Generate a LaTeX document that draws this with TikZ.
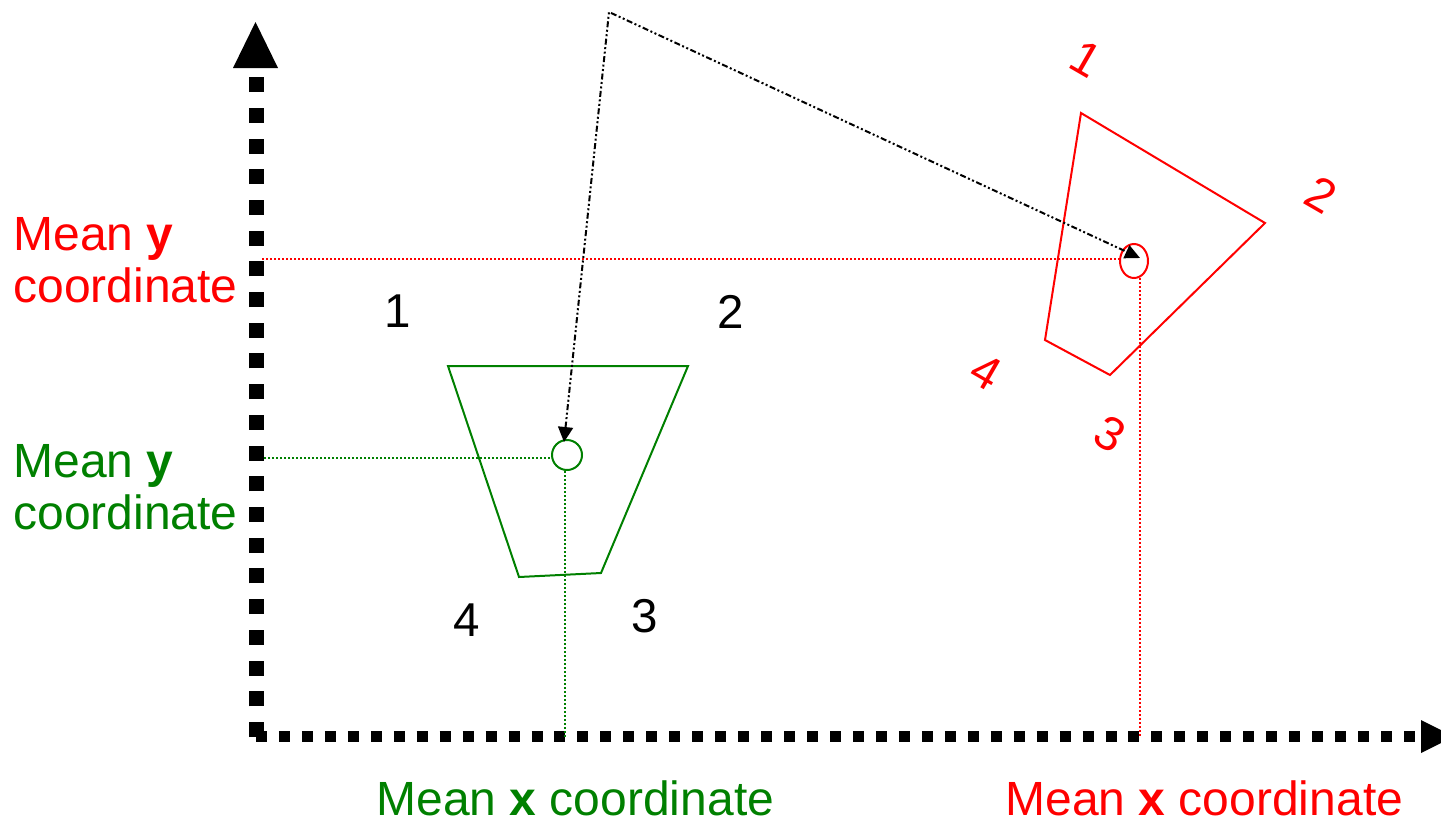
\documentclass[tikz,border=0pt]{standalone}
\usepackage{fontspec}
\setmainfont{Liberation Sans}
\usetikzlibrary{arrows.meta,shapes.geometric}
\definecolor{myred}{RGB}{255,0,0}
\definecolor{mygreen}{RGB}{0,128,0}
\begin{document}
\begin{tikzpicture}[x=1pt,y=-1pt,
  lbl/.style={inner sep=0pt, outer sep=0pt, font=\fontsize{48}{53}\selectfont},
  num/.style={inner sep=0pt, outer sep=0pt, font=\fontsize{47.5}{53}\selectfont},
  shapeline/.style={line width=2pt, line join=miter},
  guide/.style={line width=1.6pt, dash pattern=on 1.6pt off 2.4pt},
  axisv/.style={line width=15pt, dash pattern=on 15pt off 15.71pt},
  axish/.style={line width=11pt, dash pattern=on 11pt off 11.96pt},
  mapline/.style={line width=2pt, dash pattern=on 6pt off 2.5pt on 2pt off 2.5pt on 2pt off 2.5pt,
    {Triangle[length=15pt,width=15pt]}-{Triangle[length=15pt,width=14pt]}}
]
\useasboundingbox (0,0) rectangle (1441,825);
\clip (0,0) rectangle (1441,825);

% axes
\coordinate (O) at (256,737);
\coordinate (Ytop) at (256,77);
\coordinate (Xend) at (1415,736.5);
\coordinate (Ostart) at (256,736.5);
\draw[axisv] (O) -- (Ytop);
\draw[axish] (Ostart) -- (Xend);
\fill (233,68) -- (278,68) -- (255.5,22) -- cycle;
\fill (1421,720) -- (1421,753) -- (1454,736.5) -- cycle;

% green trapezoid
\coordinate (g1) at (448,366);
\coordinate (g2) at (688,366);
\coordinate (g3) at (601,573);
\coordinate (g4) at (519,577);
\draw[shapeline, mygreen] (g1) -- (g2) -- (g3) -- (g4) -- cycle;
\node[circle, draw=mygreen, line width=2pt, minimum size=30pt, inner sep=0pt] (gc) at (567,455) {};

% red quadrilateral
\coordinate (r1) at (1081,113);
\coordinate (r2) at (1265,223);
\coordinate (r3) at (1110,375);
\coordinate (r4) at (1045,340);
\draw[shapeline, myred] (r1) -- (r2) -- (r3) -- (r4) -- cycle;
\node[ellipse, draw=myred, line width=2pt, minimum width=28pt, minimum height=34pt, inner sep=0pt] (rc) at (1134,261) {};

% guide lines
\coordinate (gyl) at (264,458);
\coordinate (gxb) at (565,737);
\draw[guide, mygreen] (gyl) -- (552,458);
\draw[guide, mygreen] (565,471) -- (gxb);
\coordinate (ryl) at (262,259);
\coordinate (rxb) at (1140,737);
\draw[guide, myred] (ryl) -- (1120,259);
\draw[guide, myred] (1140,278) -- (rxb);

% mapping line
\coordinate (top) at (609,12);
\coordinate (gtip) at (564,442);
\coordinate (rtip) at (1140,258);
\draw[mapline] (gtip) -- (top) -- (rtip);

% black vertex numbers
\node[num] (n1) at (398,311.5) {1};
\node[num] (n2) at (731,311.5) {2};
\node[num] (n3) at (645,616) {3};
\node[num] (n4) at (467,620.5) {4};

% red vertex numbers (rotated)
\node[num, myred, rotate=-30] (m1) at (1086,59) {1};
\node[num, myred, rotate=-30] (m2) at (1321,195) {2};
\node[num, myred, rotate=-30] (m3) at (1110,434) {3};
\node[num, myred, rotate=-30] (m4) at (986,372) {4};

% labels
\node[lbl, myred, anchor=base west] (ry1) at (13.5,250) {Mean \textbf{y}};
\node[lbl, myred, anchor=base west] (ry2) at (13.5,302) {coordinate};
\node[lbl, mygreen, anchor=base west] (gy1) at (13.5,477) {Mean \textbf{y}};
\node[lbl, mygreen, anchor=base west] (gy2) at (13.5,529) {coordinate};
\node[lbl, mygreen, anchor=base west] (gx) at (376.5,815) {Mean \textbf{x} coordinate};
\node[lbl, myred, anchor=base west] (rx) at (1005.5,815) {Mean \textbf{x} coordinate};
\end{tikzpicture}
\end{document}
